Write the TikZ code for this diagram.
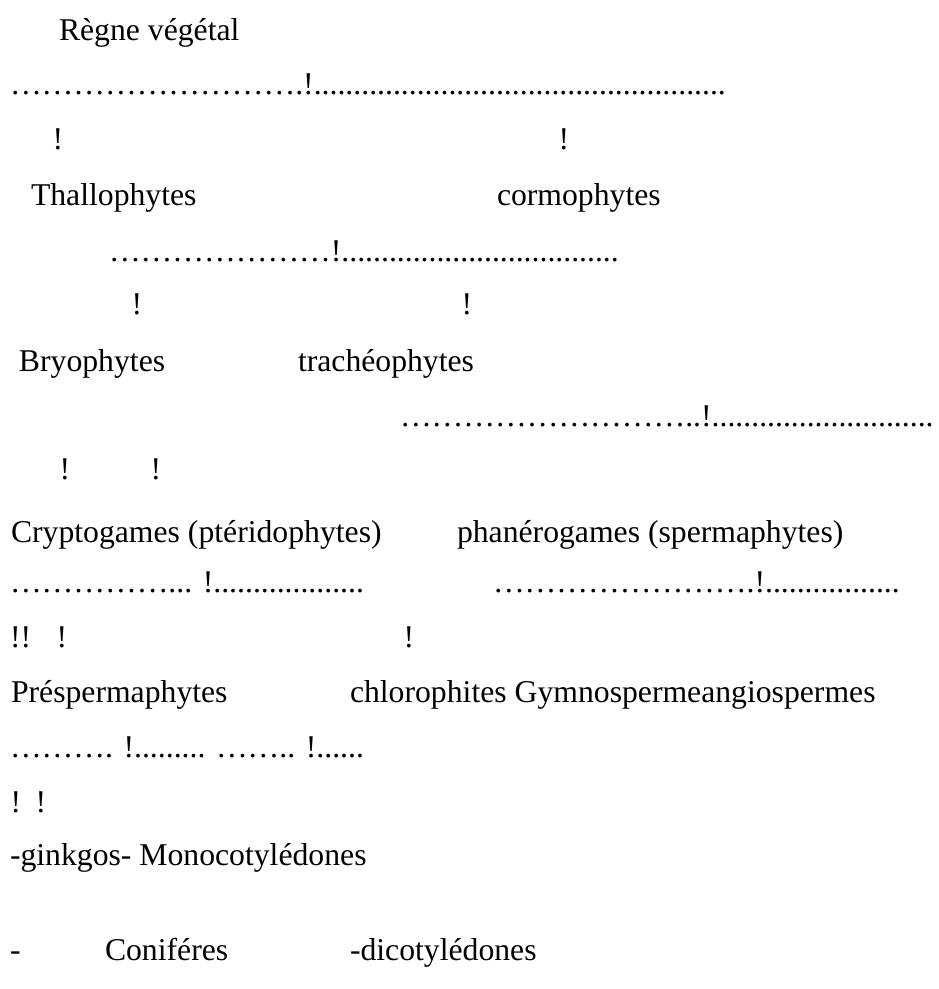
\documentclass[tikz,border=0pt]{standalone}
\usepackage{fontspec}
\setmainfont{Liberation Serif}
\newcommand{\reffont}{\fontsize{31.7}{38}\selectfont}
\ExplSyntaxOn
\cs_new:Npn \myrep #1#2 { \prg_replicate:nn {#1} {#2} }
\ExplSyntaxOff
\begin{document}
\begin{tikzpicture}[x=1pt,y=1pt,
  txt/.style={anchor=base west, inner sep=0pt, outer sep=0pt, font=\reffont},
  bang/.style={anchor=base, inner sep=0pt, outer sep=0pt, font=\reffont}]
\useasboundingbox (0,0) rectangle (939,-989);
\node[txt] (regne) at (59,-40) {Règne végétal};
\node[txt] (d1) at (10,-94) {\myrep{9}{…}.!\myrep{52}{.}};
\node[bang] (e1a) at (58,-149) {!};
\node[bang] (e1b) at (564,-149) {!};
\node[txt] (thallo) at (31,-205) {Thallophytes};
\node[txt] (cormo) at (497,-205) {cormophytes};
\node[txt] (d2) at (109,-261) {\myrep{7}{…}!\myrep{35}{.}};
\node[bang] (e2a) at (137,-314) {!};
\node[bang] (e2b) at (467,-314) {!};
\node[txt] (bryo) at (19,-371) {Bryophytes};
\node[txt] (trach) at (298,-371) {trachéophytes};
\node[txt] (d3) at (400,-426) {\myrep{9}{…}..!\myrep{28}{.}};
\node[bang] (e3a) at (65,-479) {!};
\node[bang] (e3b) at (156,-479) {!};
\node[txt] (crypto) at (11,-542) {Cryptogames (ptéridophytes)};
\node[txt] (phanero) at (457,-542) {phanérogames (spermaphytes)};
\node[txt] (d4a) at (10,-592) {\myrep{5}{…}... !\myrep{19}{.}};
\node[txt] (d4b) at (493,-592) {\myrep{8}{…}.!\myrep{17}{.}};
\node[txt] (e4a) at (10,-647) {!!};
\node[bang] (e4b) at (62,-647) {!};
\node[bang] (e4c) at (409,-647) {!};
\node[txt] (prespe) at (11,-702) {Préspermaphytes};
\node[txt] (chloro) at (350,-702) {chlorophites Gymnospermeangiospermes};
\node[txt] (d5) at (10,-757) {\myrep{3}{…}. !\myrep{9}{.} \myrep{2}{…}.. !\myrep{6}{.}};
\node[bang] (e5a) at (16,-812) {!};
\node[bang] (e5b) at (41,-812) {!};
\node[txt] (ginkgo) at (10,-865) {-ginkgos- Monocotylédones};
\node[txt] (tiret) at (10,-960) {-};
\node[txt] (conif) at (105,-960) {Coniféres};
\node[txt] (dicot) at (350,-960) {-dicotylédones};
\end{tikzpicture}
\end{document}
